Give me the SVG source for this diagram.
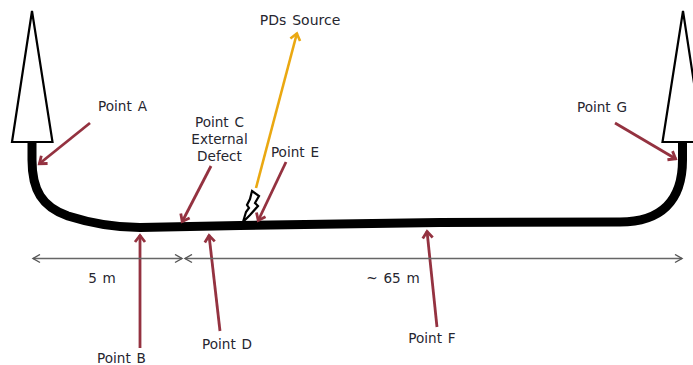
<svg xmlns="http://www.w3.org/2000/svg" width="693" height="365" viewBox="0 0 693 365">
<style>
text{font-family:"DejaVu Sans",Verdana,sans-serif;font-size:13.6px;word-spacing:1.5px;fill:#26262f;text-anchor:middle}
.ins{fill:#fff;stroke:#000;stroke-width:2.2}
.call{fill:none;stroke:#943240;stroke-width:2.8}
.dim{fill:none;stroke:#666;stroke-width:1.3}
</style>
<defs>
<marker id="red" markerWidth="14" markerHeight="14" refX="10" refY="7" orient="auto" markerUnits="userSpaceOnUse"><path d="M3 2 L9.5 7 L3 12" fill="none" stroke="#943240" stroke-width="2.8"/></marker>
<marker id="gold" markerWidth="14" markerHeight="14" refX="10" refY="7" orient="auto" markerUnits="userSpaceOnUse"><path d="M3 2 L9.5 7 L3 12" fill="none" stroke="#eaa811" stroke-width="2.6"/></marker>
<marker id="grey" markerWidth="10" markerHeight="10" refX="8" refY="5" orient="auto-start-reverse" markerUnits="userSpaceOnUse"><path d="M1 1 L8 5 L1 9" fill="none" stroke="#555" stroke-width="1.4"/></marker>
</defs>
<!-- Cable run between the two terminations -->
<g id="cable"><path d="M32 141 V160 C32 190 42 207 68 216 C90 223 115 227.500 140 227.500 L240 225.500 L440 222.500 L620 222 C660 222 682.500 202 682.500 160 V141" fill="none" stroke="#000" stroke-width="9"/></g>
<g id="termination-left"><path class="ins" d="M32 11 L52.500 142 H12 Z"/></g>
<g id="termination-right"><path class="ins" d="M683 11 L703 142 H662.500 Z"/></g>
<g id="pd-spark"><path d="M252 191 L259 196 L255 203 L258 206 L250 215 L243 222 L246 212 L249 208 L247 205 L250 199 Z" fill="#fff" stroke="#000" stroke-width="2.2"/></g>
<g id="connectors">
<path class="call" marker-end="url(#red)" d="M90 123 L39 164"/>
<path class="call" marker-end="url(#red)" d="M140 348 V235"/>
<path class="call" marker-end="url(#red)" d="M211 166 L182 222"/>
<path class="call" marker-end="url(#red)" d="M220 331 L209 235"/>
<path class="call" marker-end="url(#red)" d="M286 162 L258 221"/>
<path class="call" marker-end="url(#red)" d="M437 327 L427 231"/>
<path class="call" marker-end="url(#red)" d="M615 123 L676 159"/>
<path fill="none" stroke="#eaa811" stroke-width="2.6" marker-end="url(#gold)" d="M256 188 L297 33"/>
<path class="dim" marker-start="url(#grey)" marker-end="url(#grey)" d="M33 258.500 H182"/>
<path class="dim" marker-start="url(#grey)" marker-end="url(#grey)" d="M185 258.500 H682"/>
</g>
<g id="point-a"><text x="122.500" y="111">Point A</text></g>
<g id="point-b"><text x="121.500" y="363">Point B</text></g>
<g id="point-c"><text x="219.500" y="127">Point C</text><text x="219.500" y="144">External</text><text x="219.500" y="161">Defect</text></g>
<g id="point-d"><text x="227" y="349">Point D</text></g>
<g id="point-e"><text x="295" y="157">Point E</text></g>
<g id="point-f"><text x="432" y="343">Point F</text></g>
<g id="point-g"><text x="602" y="112">Point G</text></g>
<g id="pds-source"><text x="300" y="25" style="font-size:14px">PDs Source</text></g>
<g id="span-5m"><text x="102" y="283">5 m</text></g>
<g id="span-65m"><text x="393" y="283">~ 65 m</text></g>
</svg>
